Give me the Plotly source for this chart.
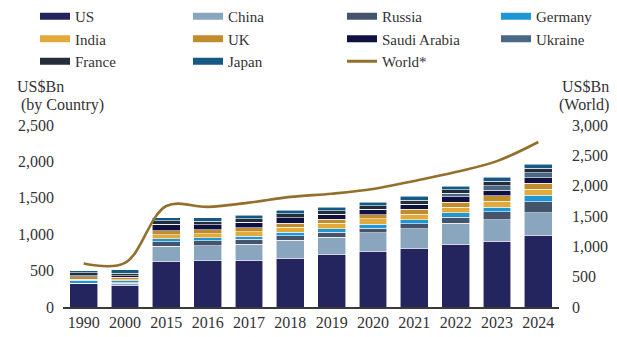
import plotly.graph_objects as go

years = ["1990", "2000", "2015", "2016", "2017", "2018", "2019", "2020", "2021", "2022", "2023", "2024"]

countries = ["US", "China", "Russia", "Germany", "India", "UK", "Saudi Arabia", "Ukraine", "France", "Japan"]
colors = ["#24255f", "#8aa6be", "#44546a", "#2196d4", "#e1aa3a", "#c08c2c", "#0f1240", "#4a6884", "#242e3b", "#155a86"]

us = [318, 302, 628, 632, 640, 672, 724, 768, 798, 862, 906, 985]
china = [10, 22, 205, 210, 222, 248, 236, 254, 280, 288, 293, 312]
russia = [0, 9, 66, 69, 66, 61, 65, 62, 66, 86, 108, 147]
germany = [38, 28, 40, 41, 44, 46, 52, 55, 56, 56, 66, 88]
india = [12, 14, 51, 56, 64, 66, 71, 72, 76, 81, 83, 85]
uk = [38, 35, 59, 56, 53, 57, 56, 59, 68, 68, 74, 81]
saudi = [16, 20, 86, 63, 70, 74, 62, 64, 63, 75, 75, 80]
ukraine = [0, 1, 4, 3, 4, 5, 5, 6, 6, 44, 64, 64]
france = [40, 33, 45, 47, 49, 51, 50, 52, 56, 53, 61, 64]
japan = [28, 45, 42, 46, 45, 46, 47, 49, 54, 46, 50, 55]
world = [716, 727, 1665, 1650, 1720, 1815, 1868, 1945, 2078, 2225, 2405, 2720]

series = [us, china, russia, germany, india, uk, saudi, ukraine, france, japan]

FONT = "Liberation Serif, Times New Roman, serif"
TXT = "#333333"
WORLD_COLOR = "#946f2b"

fig = go.Figure()

for name, vals, col in zip(countries, series, colors):
    fig.add_trace(go.Bar(
        x=years, y=vals, name=name, marker_color=col,
        marker_line_color="rgba(255,255,255,0.7)", marker_line_width=0.8,
        showlegend=False, yaxis="y",
    ))

fig.add_trace(go.Scatter(
    x=years, y=world, name="World*", mode="lines",
    line=dict(color=WORLD_COLOR, width=2.6, shape="spline", smoothing=1.0),
    yaxis="y2", showlegend=False,
))

# legend entries laid out in 4 columns (row-wise order like the reference)
legend_names = ["legend", "legend2", "legend3", "legend4"]
entries = [(n, c, 7) for n, c in zip(countries, colors)] + [("World*", WORLD_COLOR, 3)]
for i, (name, col, w) in enumerate(entries):
    fig.add_trace(go.Scatter(x=[None], y=[None], mode="lines", name=name,
                             line=dict(color=col, width=w), showlegend=True,
                             legend=legend_names[i % 4]))

col_text_x = [75, 228, 382, 536]
leg_common = dict(orientation="v", xref="container", yref="container",
                  y=1.012, xanchor="left", yanchor="top", traceorder="normal",
                  font=dict(family=FONT, size=15, color=TXT), itemwidth=30,
                  tracegroupgap=0, bgcolor="rgba(0,0,0,0)")
legends = {}
for ln, tx in zip(legend_names, col_text_x):
    legends[ln] = dict(leg_common, x=(tx - 40) / 617)

fig.update_layout(
    width=617, height=337,
    margin=dict(l=63, r=58, t=125, b=30, pad=0, autoexpand=False),
    paper_bgcolor="white", plot_bgcolor="white",
    barmode="stack", bargap=0.33,
    font=dict(family=FONT, size=16, color=TXT),
    xaxis=dict(
        type="category", showline=True, linecolor="#3a3a3a", linewidth=2,
        ticks="", showgrid=False, zeroline=False,
        tickfont=dict(family=FONT, size=16, color=TXT),
    ),
    yaxis=dict(
        range=[0, 2500], dtick=500, tickformat=",", showgrid=False,
        zeroline=False, showline=False, ticks="", ticklabelstandoff=8,
        tickfont=dict(family=FONT, size=16, color=TXT),
    ),
    yaxis2=dict(
        range=[0, 3000], dtick=500, tickformat=",", showgrid=False,
        zeroline=False, showline=False, ticks="", overlaying="y", side="right",
        ticklabelstandoff=12,
        tickfont=dict(family=FONT, size=16, color=TXT),
    ),
    **legends,
)

W = 617 - 63 - 58
def px(x):
    return (x - 63) / W
H = 337 - 125 - 30
def py(y):
    return 1 - (y - 125) / H

anns = [
    ("US$Bn", 15, 86, "left"),
    ("\u00a0(by Country)", 15, 105, "left"),
    ("US$Bn", 611, 86, "right"),
    ("(World)", 611, 105, "right"),
]
for text, x, y, anchor in anns:
    fig.add_annotation(text=text, xref="paper", yref="paper", x=px(x), y=py(y),
                       xanchor=anchor, yanchor="middle", showarrow=False,
                       font=dict(family=FONT, size=16, color=TXT))

fig.write_html("out.html")
